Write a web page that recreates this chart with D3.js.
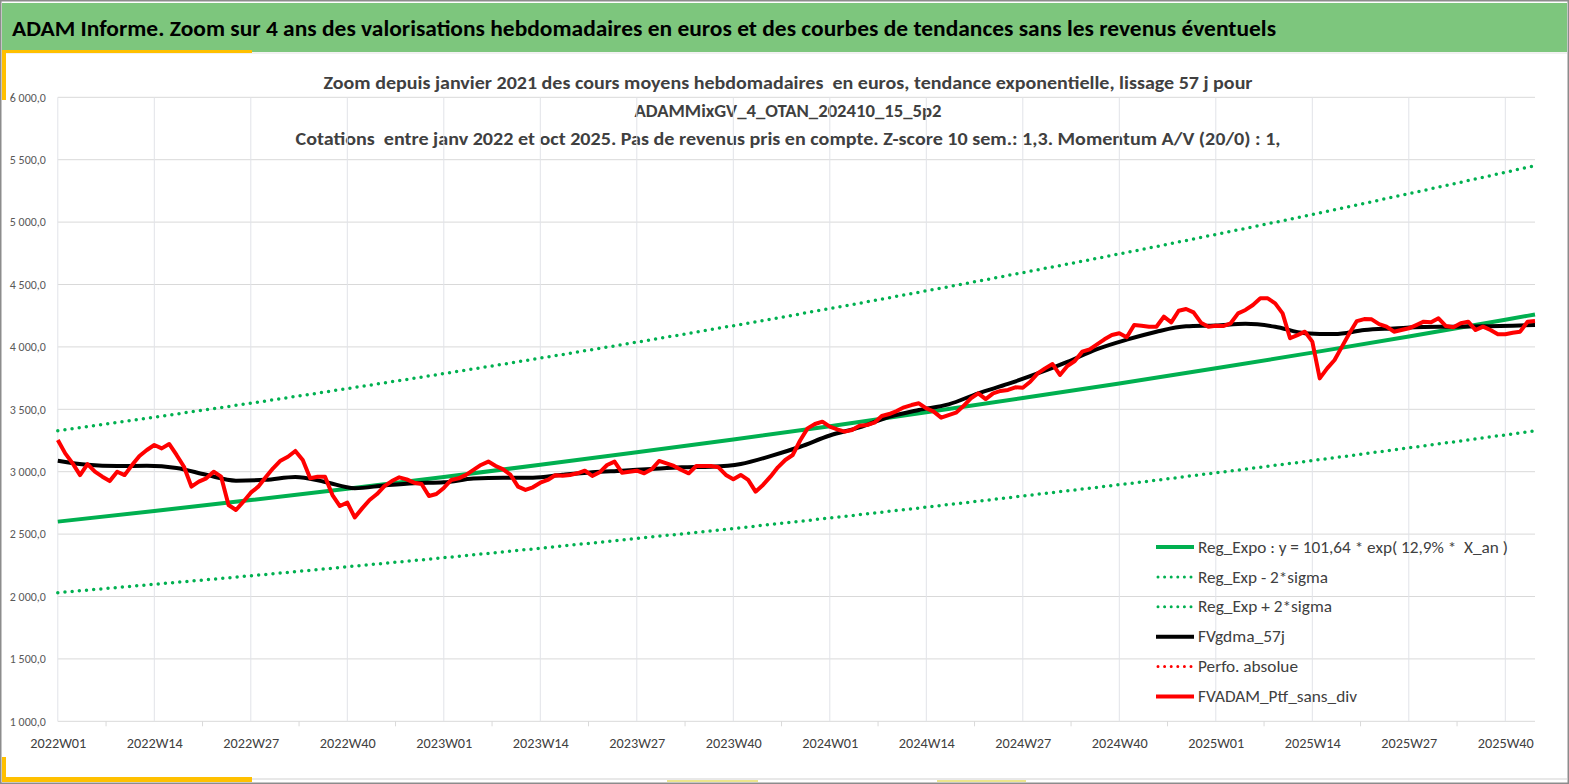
<!DOCTYPE html>
<html>
<head>
<meta charset="utf-8">
<script src="https://cdn.jsdelivr.net/npm/d3@7"></script>
<style>
  body { margin: 0; background: #fff; }
  svg { display: block; }
  text { font-family: Carlito, "Liberation Sans", Arial, sans-serif; }
</style>
</head>
<body>
<div id="chart"></div>
<script>
// weekly categories, 2022W01 .. 2025W44
var years = [2022, 2023, 2024, 2025];
var weeksPerYear = [52, 52, 52, 44];
var weeks = [];
years.forEach(function (yr, k) {
    for (var w = 1; w <= weeksPerYear[k]; w++) weeks.push(yr + "W" + (w < 10 ? "0" + w : w));
});

var tickWeeks = ["2022W01", "2022W14", "2022W27", "2022W40", "2023W01", "2023W14", "2023W27", "2023W40",
    "2024W01", "2024W14", "2024W27", "2024W40", "2025W01", "2025W14", "2025W27", "2025W40"];
var yTicks = [1000, 1500, 2000, 2500, 3000, 3500, 4000, 4500, 5000, 5500, 6000];

// FVADAM_Ptf_sans_div (weekly)
var ptfValues = [
    3254, 3147, 3067, 2973, 3061, 3000, 2960, 2925, 3000, 2973,
    3053, 3126, 3174, 3214, 3187, 3222, 3134, 3040, 2880, 2920,
    2947, 3000, 2960, 2733, 2693, 2760, 2832, 2880, 2955, 3027,
    3088, 3120, 3166, 3093, 2947, 2960, 2960, 2813, 2725, 2752,
    2634, 2706, 2773, 2821, 2885, 2925, 2955, 2939, 2912, 2901,
    2805, 2821, 2870, 2934, 2947, 2974, 3014, 3054, 3081, 3046,
    3019, 2974, 2880, 2854, 2875, 2912, 2934, 2971, 2968, 2974,
    2987, 3008, 2966, 2995, 3054, 3081, 2992, 3000, 3008, 2987,
    3019, 3086, 3067, 3046, 3014, 2987, 3046, 3046, 3046, 3035,
    2974, 2939, 2974, 2934, 2840, 2894, 2960, 3035, 3094, 3134,
    3250, 3347, 3382, 3401, 3361, 3339, 3321, 3334, 3369, 3374,
    3393, 3446, 3462, 3486, 3516, 3534, 3548, 3508, 3481, 3433,
    3454, 3473, 3526, 3588, 3628, 3582, 3628, 3647, 3655, 3676,
    3673, 3721, 3788, 3828, 3863, 3775, 3847, 3887, 3962, 3980,
    4020, 4061, 4095, 4109, 4077, 4175, 4170, 4162, 4162, 4242,
    4197, 4290, 4304, 4277, 4194, 4162, 4170, 4167, 4189, 4269,
    4296, 4336, 4389, 4389, 4349, 4269, 4069, 4095, 4122, 4042,
    3748, 3828, 3895, 4002, 4109, 4207, 4223, 4221, 4183, 4162,
    4122, 4135, 4149, 4175, 4202, 4197, 4229, 4167, 4157, 4189,
    4202, 4135, 4162, 4135, 4101, 4101, 4114, 4122, 4202, 4207
];

// FVgdma_57j, read every 4 weeks
var smaIdx = [0, 4, 8, 12, 16, 20, 24, 28, 32, 36, 40, 44, 48, 52, 56, 60, 64, 68, 72, 76,
    80, 84, 88, 92, 96, 100, 104, 108, 112, 116, 120, 124, 128, 132, 136, 140, 144, 148,
    152, 156, 160, 164, 168, 172, 176, 180, 184, 188, 192, 196, 199];
var smaValues = [3088, 3055, 3045, 3048, 3030, 2975, 2928, 2935, 2958, 2918, 2868, 2890, 2908,
    2915, 2945, 2952, 2952, 2975, 2995, 3008, 3022, 3035, 3040, 3062, 3125, 3200, 3290, 3355,
    3440, 3495, 3540, 3628, 3703, 3787, 3880, 3982, 4058, 4122, 4165, 4172, 4185, 4162, 4110,
    4103, 4135, 4148, 4160, 4162, 4165, 4170, 4175];

// Reg_Expo and +/- 2 sigma, read every 13 weeks
var trendIdx = [0, 13, 26, 39, 52, 65, 78, 91, 104, 117, 130, 143, 156, 169, 182, 195, 199];
var trendValues = [2600, 2685, 2773, 2864, 2958, 3055, 3155, 3258, 3365, 3476, 3590, 3707, 3829, 3954, 4084, 4218, 4260];
var upperValues = [3328, 3437, 3549, 3666, 3786, 3910, 4038, 4170, 4307, 4449, 4595, 4745, 4901, 5061, 5228, 5399, 5453];
var lowerValues = [2031, 2098, 2166, 2238, 2311, 2387, 2465, 2545, 2629, 2716, 2805, 2896, 2991, 3089, 3191, 3295, 3328];

var legendNames = ["Reg_Expo : y = 101,64 * exp( 12,9% *  X_an )", "Reg_Exp - 2*sigma", "Reg_Exp + 2*sigma",
    "FVgdma_57j", "Perfo. absolue", "FVADAM_Ptf_sans_div"];

var title = "ADAM Informe. Zoom sur 4 ans des valorisations hebdomadaires en euros et des courbes de tendances sans les revenus éventuels";
var subtitles = ["Zoom depuis janvier 2021 des cours moyens hebdomadaires  en euros, tendance exponentielle, lissage 57 j pour",
    "ADAMMixGV_4_OTAN_202410_15_5p2",
    "Cotations  entre janv 2022 et oct 2025. Pas de revenus pris en compte. Z-score 10 sem.: 1,3. Momentum A/V (20/0) : 1,"];

var width = 1569, height = 784;
var plot = { left: 57.8, right: 1535, top: 97.3, bottom: 721.3 };

var svg = d3.select("#chart").append("svg")
    .attr("width", width)
    .attr("height", height);

// frame
svg.append("rect").attr("x", 0.75).attr("y", 0.75).attr("width", width - 1.5).attr("height", height - 1.5)
    .attr("fill", "#fff").attr("stroke", "#8c8c8c").attr("stroke-width", 1.5);
svg.append("rect").attr("x", 2).attr("y", 3).attr("width", width - 4).attr("height", 49).attr("fill", "#7DC67D");
svg.append("line").attr("x1", 2).attr("x2", width - 2).attr("y1", 53).attr("y2", 53).attr("stroke", "#e4e4e4");
svg.append("rect").attr("x", 2).attr("y", 50).attr("width", 250).attr("height", 3).attr("fill", "#FFC000");
svg.append("rect").attr("x", 2).attr("y", 52).attr("width", 4).attr("height", 48).attr("fill", "#FFC000");
svg.append("rect").attr("x", 2).attr("y", 757).attr("width", 4).attr("height", 25).attr("fill", "#FFC000");
svg.append("rect").attr("x", 2).attr("y", 777).attr("width", 250).attr("height", 5).attr("fill", "#FFC000");
svg.append("line").attr("x1", 252).attr("x2", width - 2).attr("y1", 779).attr("y2", 779).attr("stroke", "#e8e8e8").attr("stroke-width", 2);
svg.append("rect").attr("x", 667).attr("y", 780).attr("width", 91).attr("height", 2).attr("fill", "#ece58c");
svg.append("rect").attr("x", 937).attr("y", 780).attr("width", 89).attr("height", 2).attr("fill", "#ece58c");

// titles
svg.append("text").attr("x", 12).attr("y", 36).text(title)
    .attr("font-size", "22px").attr("font-weight", "bold").attr("fill", "#000")
    .attr("textLength", 1264).attr("lengthAdjust", "spacingAndGlyphs");
var subW = [929, 307, 985];
svg.selectAll(".subtitle").data(subtitles).enter().append("text")
    .attr("class", "subtitle")
    .attr("x", 788).attr("y", function (d, i) { return 89 + i * 28; })
    .attr("text-anchor", "middle")
    .attr("font-size", "17px").attr("font-weight", "bold").attr("fill", "#404040")
    .style("white-space", "pre")
    .attr("textLength", function (d, i) { return subW[i]; })
    .attr("lengthAdjust", "spacingAndGlyphs")
    .text(function (d) { return d; });

var x = d3.scalePoint().domain(weeks).range([plot.left, plot.right]);
var y = d3.scaleLinear().domain([1000, 6000]).range([plot.bottom, plot.top]);

// gridlines
svg.append("g").selectAll("line").data(yTicks).enter().append("line")
    .attr("x1", plot.left).attr("x2", plot.right)
    .attr("y1", function (d) { return y(d); }).attr("y2", function (d) { return y(d); })
    .attr("stroke", "#d9d9d9").attr("stroke-width", 1);
svg.append("g").selectAll("line").data(tickWeeks).enter().append("line")
    .attr("x1", function (d) { return x(d); }).attr("x2", function (d) { return x(d); })
    .attr("y1", plot.top).attr("y2", plot.bottom)
    .attr("stroke", "#e1e3e8").attr("stroke-width", 1);

// minor ticks on the category axis
var mids = tickWeeks.slice(0, -1).map(function (d, i) { return (x(d) + x(tickWeeks[i + 1])) / 2; });
svg.append("g").selectAll("line").data(mids).enter().append("line")
    .attr("x1", function (d) { return d; }).attr("x2", function (d) { return d; })
    .attr("y1", plot.bottom).attr("y2", plot.bottom + 5)
    .attr("stroke", "#d9d9d9");

// axes
var fr = d3.formatLocale({ decimal: ",", thousands: "\u00a0", grouping: [3], currency: ["", " €"] });
var yAxis = svg.append("g")
    .attr("transform", "translate(" + plot.left + ",0)")
    .call(d3.axisLeft(y).tickValues(yTicks).tickFormat(fr.format(",.1f")).tickSize(0).tickPadding(12));
yAxis.select(".domain").remove();
yAxis.selectAll("text").attr("font-size", "12px").attr("fill", "#595959")
    .style("font-family", "Carlito, 'Liberation Sans', Arial, sans-serif")
    .attr("textLength", 36).attr("lengthAdjust", "spacingAndGlyphs");

var xAxis = svg.append("g")
    .attr("transform", "translate(0," + plot.bottom + ")")
    .call(d3.axisBottom(x).tickValues(tickWeeks).tickSize(0).tickPadding(16));
xAxis.select(".domain").remove();
xAxis.selectAll("text").attr("font-size", "15px").attr("fill", "#404040")
    .style("font-family", "Carlito, 'Liberation Sans', Arial, sans-serif")
    .attr("textLength", 56).attr("lengthAdjust", "spacingAndGlyphs");

// series
var sampled = d3.line()
    .x(function (d) { return x(weeks[d[0]]); })
    .y(function (d) { return y(d[1]); })
    .curve(d3.curveMonotoneX);
function pairs(idx, vals) { return idx.map(function (d, i) { return [d, vals[i]]; }); }

var green = "#00B050";
svg.append("path").datum(pairs(trendIdx, trendValues)).attr("d", sampled)
    .attr("fill", "none").attr("stroke", green).attr("stroke-width", 4);
svg.append("path").datum(pairs(trendIdx, lowerValues)).attr("d", sampled)
    .attr("fill", "none").attr("stroke", green).attr("stroke-width", 3.5)
    .attr("stroke-linecap", "round").attr("stroke-dasharray", "0 7.2");
svg.append("path").datum(pairs(trendIdx, upperValues)).attr("d", sampled)
    .attr("fill", "none").attr("stroke", green).attr("stroke-width", 3.5)
    .attr("stroke-linecap", "round").attr("stroke-dasharray", "0 7.2");
svg.append("path").datum(pairs(smaIdx, smaValues)).attr("d", sampled)
    .attr("fill", "none").attr("stroke", "#000").attr("stroke-width", 4)
    .attr("stroke-linejoin", "round");

var weekly = d3.line()
    .x(function (d, i) { return x(weeks[i]); })
    .y(function (d) { return y(d); });
svg.append("path").datum(ptfValues).attr("d", weekly)
    .attr("fill", "none").attr("stroke", "#FF0000").attr("stroke-width", 4)
    .attr("stroke-linejoin", "round");

// legend
var legendStyle = [
    { color: green, dash: null, w: 310 },
    { color: green, dash: "0 6.6", w: 130 },
    { color: green, dash: "0 6.6", w: 134 },
    { color: "#000", dash: null, w: 87 },
    { color: "#FF0000", dash: "0 6.6", w: 100 },
    { color: "#FF0000", dash: null, w: 159 }
];
var legend = svg.append("g").selectAll("g").data(legendNames).enter().append("g")
    .attr("transform", function (d, i) { return "translate(1156," + (547 + i * 29.9) + ")"; });
legend.append("line")
    .attr("x1", function (d, i) { return legendStyle[i].dash ? 2 : 0; }).attr("x2", 38)
    .attr("stroke", function (d, i) { return legendStyle[i].color; })
    .attr("stroke-width", function (d, i) { return legendStyle[i].dash ? 3 : 4; })
    .attr("stroke-linecap", function (d, i) { return legendStyle[i].dash ? "round" : "butt"; })
    .attr("stroke-dasharray", function (d, i) { return legendStyle[i].dash; });
legend.append("text")
    .attr("x", 42).attr("dy", "0.35em")
    .attr("font-size", "16px").attr("fill", "#404040")
    .style("white-space", "pre")
    .attr("textLength", function (d, i) { return legendStyle[i].w; })
    .attr("lengthAdjust", "spacingAndGlyphs")
    .text(function (d) { return d; });
</script>
</body>
</html>
